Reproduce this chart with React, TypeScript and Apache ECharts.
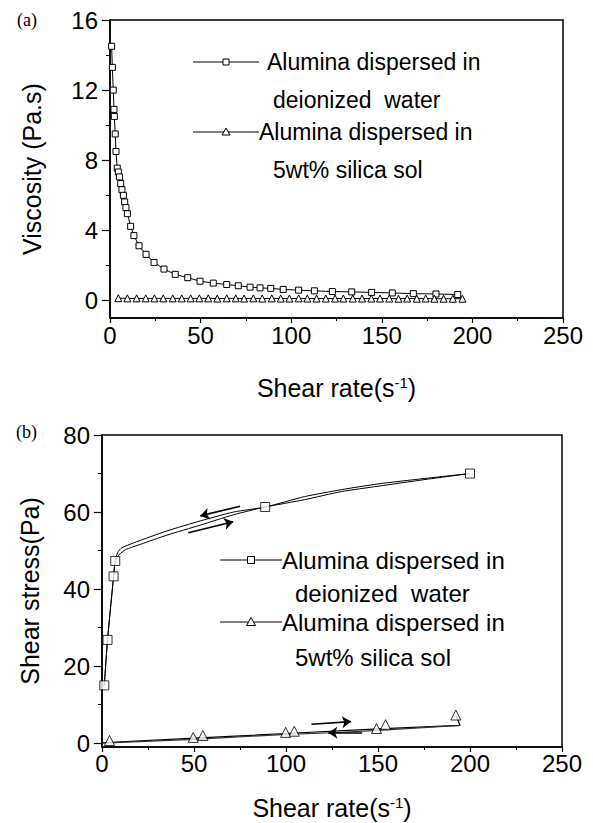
import React, { useEffect, useRef } from "react";
import * as echarts from "echarts";

// ---------- Panel (a): viscosity vs shear rate ----------
const viscWaterX = [0.9, 1.3, 1.8, 2.2, 2.4, 2.9, 3.3, 4.0, 4.6, 5.2, 5.9, 6.6, 7.4, 8.1, 8.8, 9.6, 11.4, 13.2, 16.0, 19.9, 24.3, 29.8, 36.0, 42.9, 49.7, 57.0, 64.4, 70.8, 77.3, 82.8, 88.7, 95.6, 104.1, 112.8, 122.7, 133.4, 144.4, 155.8, 167.4, 179.9, 191.9];
const viscWaterY = [14.5, 13.3, 12.0, 10.9, 10.5, 9.5, 8.5, 7.55, 7.33, 7.05, 6.67, 6.32, 6.0, 5.62, 5.3, 4.95, 4.23, 3.7, 3.12, 2.63, 2.17, 1.79, 1.49, 1.3, 1.1, 0.99, 0.91, 0.84, 0.76, 0.72, 0.69, 0.63, 0.59, 0.55, 0.51, 0.49, 0.46, 0.43, 0.39, 0.37, 0.34];
const viscSilicaX = [4.6, 9.6, 14.7, 19.7, 24.5, 29.4, 34.6, 39.6, 44.5, 49.3, 54.2, 59.2, 64.4, 69.4, 74.0, 79.1, 84.0, 89.3, 94.2, 99.0, 104.1, 108.9, 114.0, 119.1, 124.2, 128.8, 134.0, 139.1, 144.2, 149.0, 154.1, 159.2, 164.0, 169.3, 174.2, 179.0, 184.1, 189.2, 194.5];
const viscSilicaY = [0.13, 0.12, 0.12, 0.12, 0.12, 0.12, 0.12, 0.12, 0.12, 0.12, 0.12, 0.11, 0.12, 0.12, 0.11, 0.12, 0.11, 0.12, 0.11, 0.11, 0.12, 0.11, 0.11, 0.11, 0.11, 0.11, 0.11, 0.11, 0.11, 0.11, 0.11, 0.1, 0.11, 0.1, 0.11, 0.1, 0.1, 0.1, 0.1];

// ---------- Panel (b): shear stress vs shear rate ----------
const stressWaterUp = [[1.25, 15.0], [3.0, 26.8], [6.3, 43.3], [7.2, 47.3], [9.5, 49.0], [12.7, 50.2], [20.8, 51.6], [35.3, 54.0], [53.4, 56.6], [71.5, 59.3], [88.7, 61.3], [110, 63.2], [130, 65.3], [150, 66.7], [175, 68.4], [200, 70.0]];
const stressWaterDown = [[200, 70.0], [175, 68.7], [150, 67.3], [130, 65.8], [110, 64.0], [88.7, 61.3], [71.5, 60.0], [53.4, 57.7], [35.3, 55.1], [17.2, 52.0], [10.7, 50.7], [8.5, 49.5], [7.2, 47.3], [6.3, 43.3], [3.0, 26.8], [1.25, 15.0]];
const stressWaterMarks = [[1.25, 15.0], [3.0, 26.8], [6.3, 43.3], [7.2, 47.3], [88.7, 61.3], [200, 70.0]];
const stressSilicaUp = [[0, 0.1], [50, 1.3], [100, 2.5], [150, 3.7], [194.6, 4.6], [192.3, 7.3]];
const stressSilicaDown = [[194.6, 4.6], [150, 3.3], [125, 2.7], [100, 2.3], [50, 1.0], [0, 0.0]];
const stressSilicaMarks = [[4.1, 0.7], [49.6, 1.5], [54.8, 2.0], [99.8, 2.8], [104.5, 3.1], [149.2, 3.8], [154.1, 4.8], [192.3, 7.3]];
const arrowsB = [
  [[75, 61.5], [53.4, 59.0]],
  [[46.9, 54.6], [71.3, 57.5]],
  [[113.8, 4.9], [135.4, 5.6]],
  [[141.4, 2.7], [123, 2.7]],
];

const xTicks = [0, 50, 100, 150, 200, 250];
const yTicksA = [0, 4, 8, 12, 16];
const yMinorA = [2, 6, 10, 14];
const yTicksB = [0, 20, 40, 60, 80];
const yMinorB = [10, 30, 50, 70];

const legendLines = ["Alumina dispersed in", "deionized  water", "Alumina dispersed in", "5wt% silica sol"];

const FONT = "'Liberation Sans', Arial, sans-serif";

export default function App() {
  const ref = useRef<HTMLDivElement>(null);
  useEffect(() => {
    if (!ref.current) return;
    const chart = echarts.init(ref.current, null, { renderer: "svg" });
    const black = "#000";
    const lbl = { color: black, fontSize: 24, fontFamily: FONT };
    const rich = { sup: { fontSize: 15, fontFamily: FONT, color: black, verticalAlign: "top" as const } };
    const xAxisBase = (gi: number, gap: number, margin: number) => ({
      gridIndex: gi,
      type: "value",
      min: 0,
      max: 250,
      interval: 50,
      axisLine: { show: true, onZero: false, lineStyle: { color: black, width: 1.5 } },
      axisTick: { show: true, length: 5, lineStyle: { color: black, width: 1.2 } },
      minorTick: { show: true, splitNumber: 2, length: 3, lineStyle: { color: black, width: 1 } },
      axisLabel: { ...lbl, margin },
      splitLine: { show: false },
      name: "Shear rate(s{sup|-1})",
      nameLocation: "middle",
      nameGap: gap,
      nameTextStyle: { color: black, fontSize: 25, fontFamily: FONT, rich },
    });
    const yMain = (gi: number, min: number, max: number, ticks: number[], name: string, gap: number) => ({
      gridIndex: gi,
      type: "value",
      min,
      max,
      position: "left",
      axisLine: { show: true, onZero: false, lineStyle: { color: black, width: 1.5 } },
      axisTick: { show: true, length: 8, lineStyle: { color: black, width: 1.2 }, customValues: ticks },
      axisLabel: { ...lbl, margin: 12, customValues: ticks },
      splitLine: { show: false },
      name,
      nameLocation: "middle",
      nameGap: gap,
      nameTextStyle: { color: black, fontSize: 25, fontFamily: FONT },
    });
    const yMinor = (gi: number, min: number, max: number, ticks: number[]) => ({
      gridIndex: gi,
      type: "value",
      min,
      max,
      position: "left",
      axisLine: { show: false, onZero: false },
      axisTick: { show: true, length: 4, lineStyle: { color: black, width: 1 }, customValues: ticks },
      axisLabel: { show: false, customValues: ticks },
      splitLine: { show: false },
    });
    const sq = (size: number) => ({ symbol: "rect", symbolSize: size, itemStyle: { color: "#fff", borderColor: black, borderWidth: 1 } });
    const tri = (size: number) => ({ symbol: "triangle", symbolSize: size, itemStyle: { color: "#fff", borderColor: black, borderWidth: 1 } });

    const legendGraphic = (x0: number, x1: number, xm: number, y1: number, y2: number, y3: number, y4: number, tx1: number, tx3: number, tx2: number, fs: number, s: number) => [
      { type: "line", shape: { x1: x0, y1: y1, x2: x1, y2: y1 }, style: { stroke: black, lineWidth: 1 } },
      { type: "rect", shape: { x: xm - s / 2, y: y1 - s / 2, width: s, height: s }, style: { fill: "#fff", stroke: black, lineWidth: 1 } },
      { type: "text", x: tx1, y: y1, style: { text: legendLines[0], font: `${fs}px ${FONT}`, fill: black, verticalAlign: "middle" } },
      { type: "text", x: tx2, y: y2, style: { text: legendLines[1], font: `${fs}px ${FONT}`, fill: black, verticalAlign: "middle" } },
      { type: "line", shape: { x1: x0, y1: y3, x2: x1, y2: y3 }, style: { stroke: black, lineWidth: 1 } },
      { type: "polygon", shape: { points: [[xm, y3 - s / 2 - 1], [xm - s / 2 - 1, y3 + s / 2], [xm + s / 2 + 1, y3 + s / 2]] }, style: { fill: "#fff", stroke: black, lineWidth: 1 } },
      { type: "text", x: tx3, y: y3, style: { text: legendLines[2], font: `${fs}px ${FONT}`, fill: black, verticalAlign: "middle" } },
      { type: "text", x: tx2, y: y4, style: { text: legendLines[3], font: `${fs}px ${FONT}`, fill: black, verticalAlign: "middle" } },
    ];

    chart.setOption({
      animation: false,
      backgroundColor: "#fff",
      grid: [
        { left: 110, top: 20, width: 453, height: 298, show: true, borderColor: black, borderWidth: 1.5, backgroundColor: "transparent" },
        { left: 102, top: 435, width: 460, height: 312, show: true, borderColor: black, borderWidth: 1.5, backgroundColor: "transparent" },
      ],
      xAxis: [xAxisBase(0, 57, 5), xAxisBase(1, 48, 4)],
      yAxis: [
        yMain(0, -1, 16, yTicksA, "Viscosity (Pa.s)", 66),
        yMinor(0, -1, 16, yMinorA),
        yMain(1, -1, 80, yTicksB, "Shear stress(Pa)", 60),
        yMinor(1, -1, 80, yMinorB),
      ],
      graphic: [
        { type: "text", x: 17, y: 20, style: { text: "(a)", font: "18px 'Liberation Serif', serif", fill: black, verticalAlign: "middle" } },
        { type: "text", x: 16, y: 432, style: { text: "(b)", font: "18px 'Liberation Serif', serif", fill: black, verticalAlign: "middle" } },
        ...legendGraphic(193, 259, 226, 62, 100, 132, 170, 267, 259, 273, 23, 6),
        ...legendGraphic(220, 282, 251, 560, 593, 622, 657, 282, 282, 295, 24, 7),
      ],
      series: [
        {
          name: "Alumina dispersed in deionized water",
          type: "line",
          xAxisIndex: 0,
          yAxisIndex: 0,
          data: viscWaterX.map((x, i) => [x, viscWaterY[i]]),
          lineStyle: { color: black, width: 1 },
          ...sq(6),
          showSymbol: true,
        },
        {
          name: "Alumina dispersed in 5wt% silica sol",
          type: "line",
          xAxisIndex: 0,
          yAxisIndex: 0,
          data: viscSilicaX.map((x, i) => [x, viscSilicaY[i]]),
          lineStyle: { color: black, width: 1 },
          ...tri(7),
          showSymbol: true,
        },
        {
          name: "water up",
          type: "line",
          xAxisIndex: 1,
          yAxisIndex: 2,
          data: stressWaterUp,
          smooth: 0.2,
          showSymbol: false,
          lineStyle: { color: black, width: 1 },
          markLine: {
            silent: true,
            symbol: ["none", "arrow"],
            symbolSize: 9,
            label: { show: false },
            lineStyle: { color: black, width: 1.6, type: "solid" },
            data: arrowsB.map((a) => [{ coord: a[0] }, { coord: a[1] }]),
          },
        },
        {
          name: "water down",
          type: "line",
          xAxisIndex: 1,
          yAxisIndex: 2,
          data: stressWaterDown,
          smooth: 0.2,
          showSymbol: false,
          lineStyle: { color: black, width: 1 },
        },
        {
          name: "silica up",
          type: "line",
          xAxisIndex: 1,
          yAxisIndex: 2,
          data: stressSilicaUp,
          showSymbol: false,
          lineStyle: { color: black, width: 1.2 },
        },
        {
          name: "silica down",
          type: "line",
          xAxisIndex: 1,
          yAxisIndex: 2,
          data: stressSilicaDown,
          showSymbol: false,
          lineStyle: { color: "#333", width: 1.2 },
        },
        {
          name: "Alumina dispersed in deionized water (b)",
          type: "scatter",
          xAxisIndex: 1,
          yAxisIndex: 2,
          data: stressWaterMarks,
          ...sq(9),
          z: 5,
        },
        {
          name: "Alumina dispersed in 5wt% silica sol (b)",
          type: "scatter",
          xAxisIndex: 1,
          yAxisIndex: 2,
          data: stressSilicaMarks,
          ...tri(10),
          z: 5,
        },
      ],
    });
    return () => chart.dispose();
  }, []);
  return <div ref={ref} style={{ position: "fixed", left: 0, top: 0, width: 593, height: 823, background: "#fff" }} />;
}
